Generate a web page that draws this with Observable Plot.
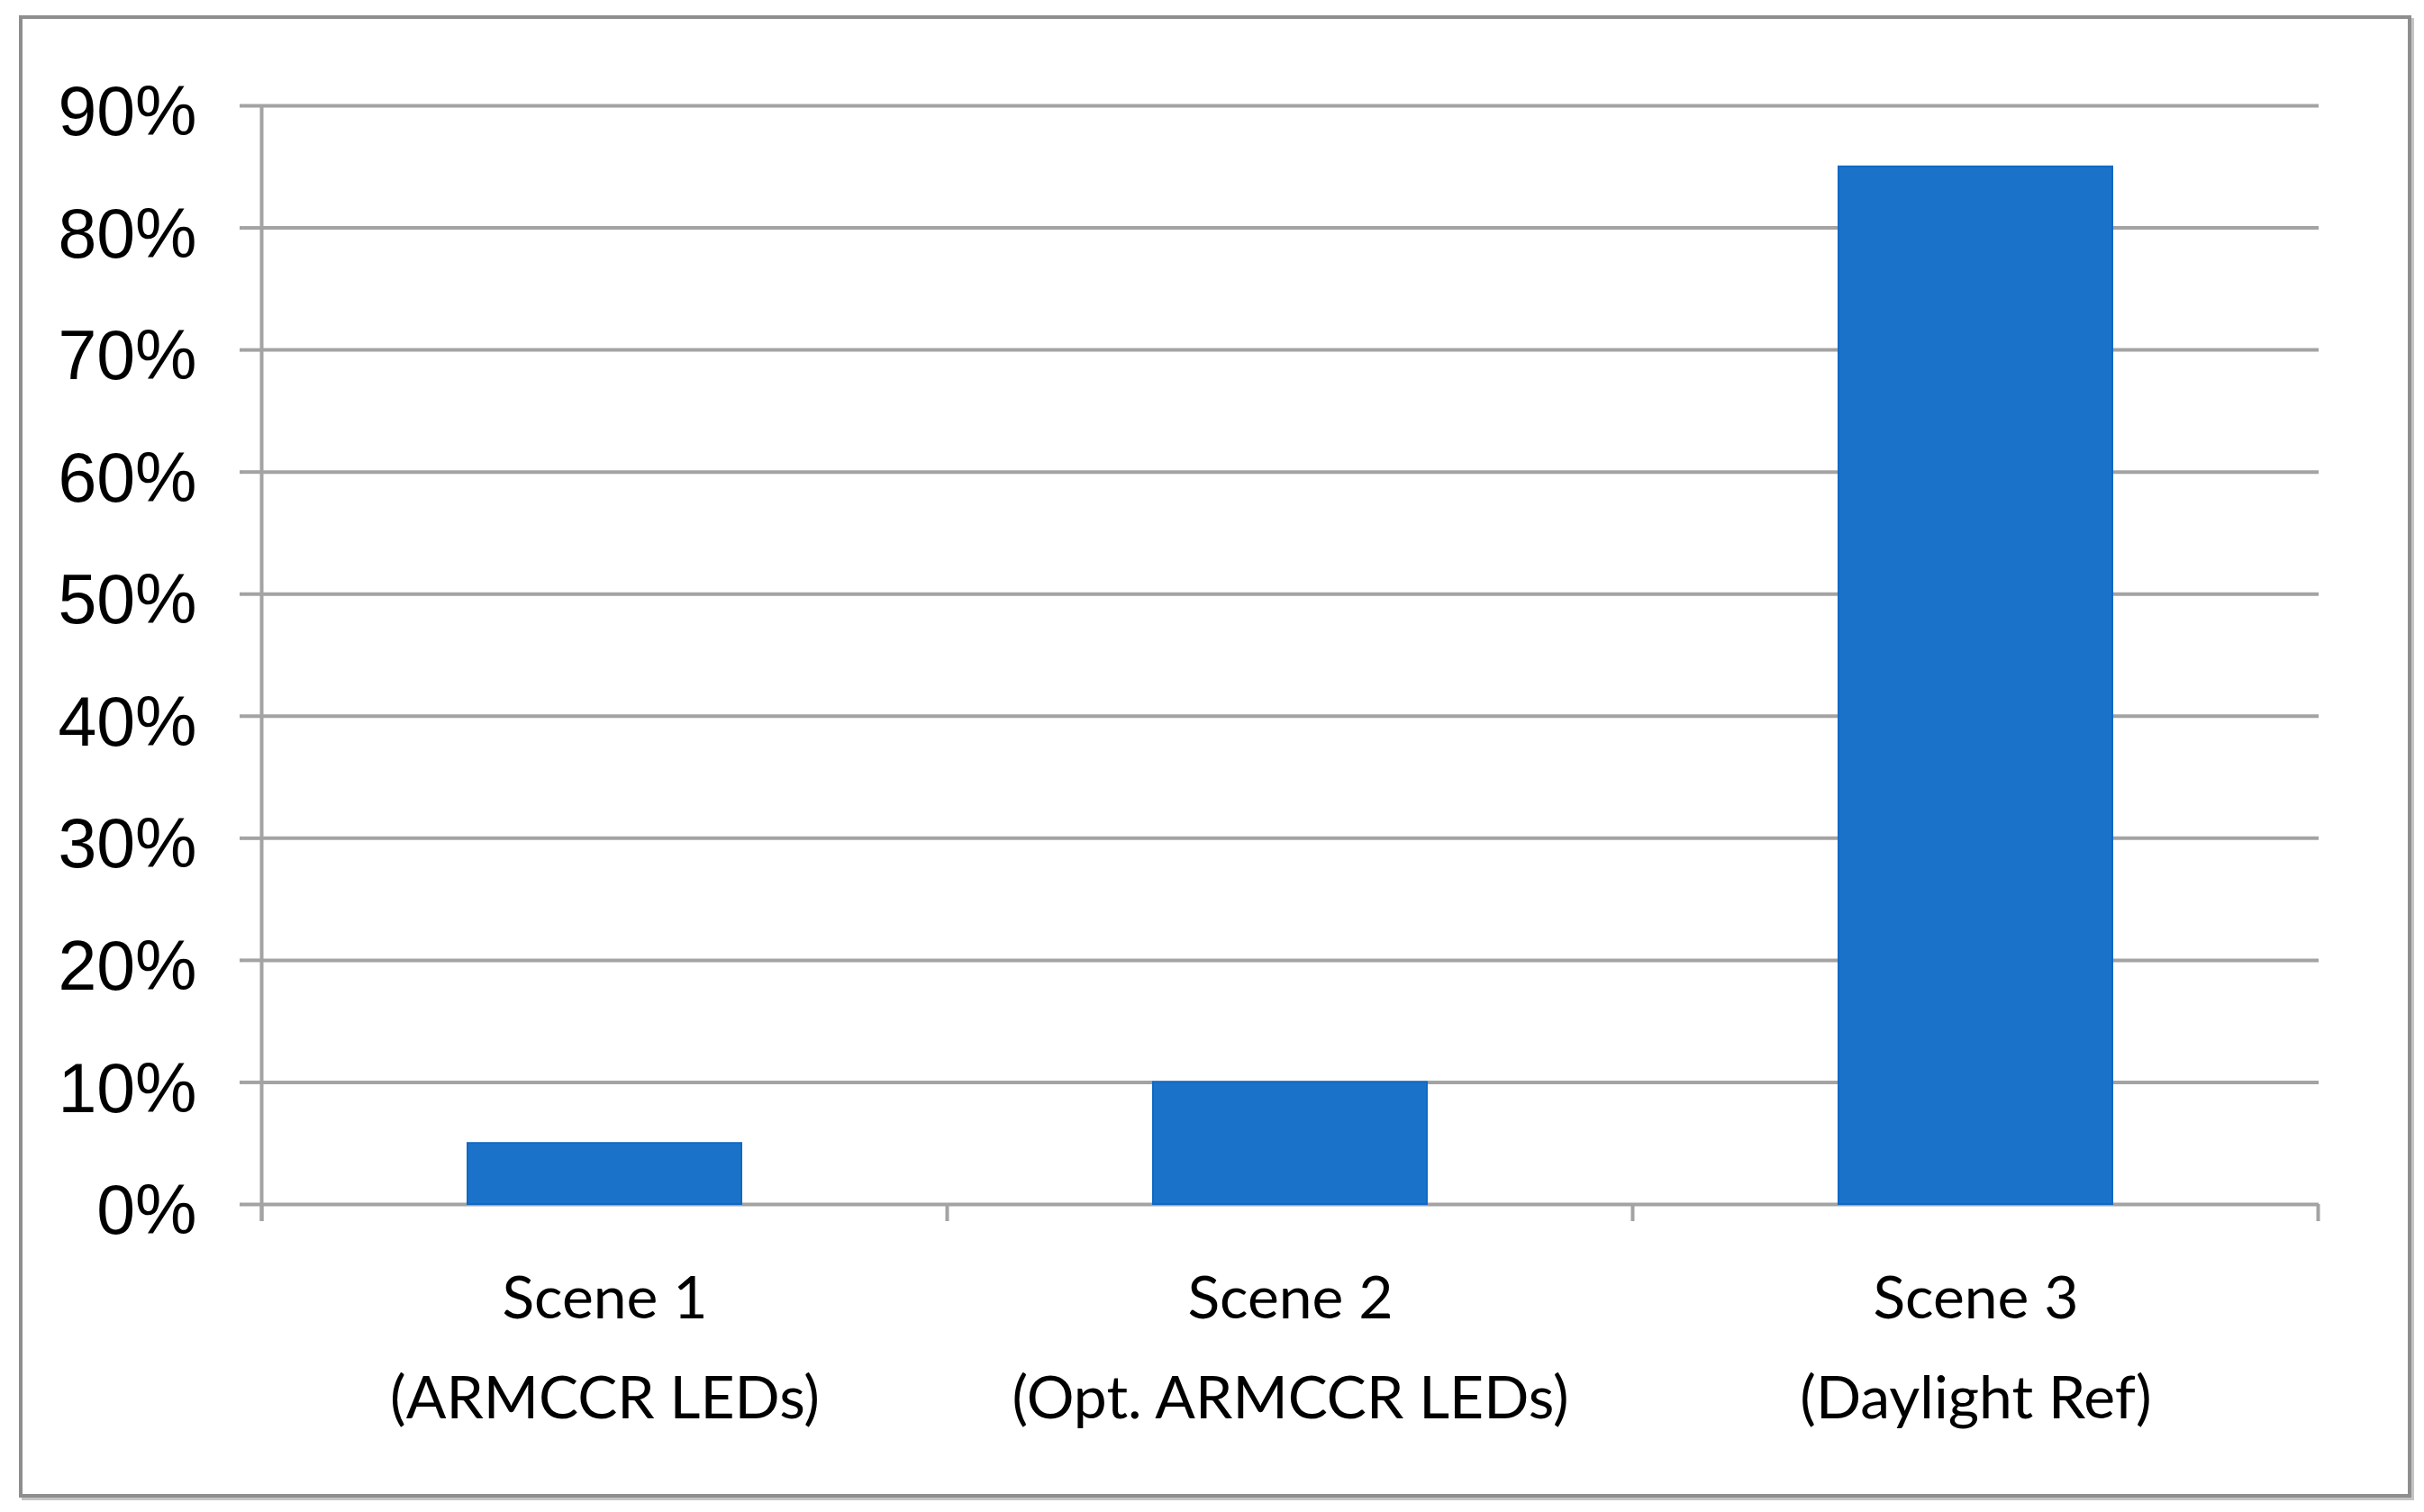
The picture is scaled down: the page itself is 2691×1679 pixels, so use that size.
<!DOCTYPE html>
<html>
<head>
<meta charset="utf-8">
<script src="https://cdn.jsdelivr.net/npm/d3@7"></script>
<script src="https://cdn.jsdelivr.net/npm/@observablehq/plot@0.6"></script>
<style>
  html, body { margin: 0; padding: 0; background: #fff; }
  #wrap { position: relative; width: 2691px; height: 1679px; overflow: hidden; }
  #frame { position: absolute; left: 21px; top: 17px; width: 2648px; height: 1638px;
           border: 4px solid #8e8e8e; box-shadow: 3px 3px 0 #c4c4c4; }
  #chart { position: absolute; left: 0; top: 0; }
</style>
</head>
<body>
<div id="wrap"><div id="frame"></div><div id="chart"></div></div>
<script>
const categories = ["Scene 1", "Scene 2", "Scene 3"];
const subLabels = ["(ARMCCR LEDs)", "(Opt. ARMCCR LEDs)", "(Daylight Ref)"];
const values = [0.05, 0.10, 0.85];
const yTicks = [0, 0.1, 0.2, 0.3, 0.4, 0.5, 0.6, 0.7, 0.8, 0.9];

const data = categories.map((c, i) => ({category: c, sub: subLabels[i], value: values[i]}));
const labelOf = new Map(data.map(d => [d.category, d.category + "\n" + d.sub]));

const grid = "#a3a3a3";
const plot = Plot.plot({
  width: 2691,
  height: 1679,
  marginLeft: 290,
  marginRight: 117,
  marginTop: 117,
  marginBottom: 342,
  style: {background: "transparent", overflow: "visible"},
  x: {domain: categories, paddingInner: 0.6, paddingOuter: 0.3},
  y: {domain: [0, 0.9]},
  marks: [
    Plot.ruleY(yTicks, {y: d => d, stroke: grid, strokeWidth: 4, strokeOpacity: 1}),
    // tick marks only
    Plot.axisY({ticks: yTicks, tickFormat: () => "", tickSize: 24,
      stroke: grid, strokeWidth: 4, strokeOpacity: 1, label: null}),
    // tick labels only
    Plot.axisY({ticks: yTicks, tickFormat: d3.format(".0%"), tickSize: 0, tickPadding: 72,
      fontSize: 77, fill: "#000", dy: 8,
      fontFamily: "Liberation Sans, Arial, sans-serif", label: null}),
    Plot.barY(data, {x: "category", y: "value", fill: "#1a73c9", stroke: "#1168c4", strokeWidth: 2}),
    Plot.axisX({tickSize: 0, tickPadding: 47, tickFormat: d => labelOf.get(d), fontSize: 66,
      lineHeight: 1.69, fill: "#000", fontFamily: "Lato, Open Sans, sans-serif", label: null})
  ]
});
document.getElementById("chart").appendChild(plot);

// Boundary tick marks along the category axis, derived from Plot's own x and y scales
const sx = plot.scale("x");
const sy = plot.scale("y");
const gap = (sx.step - sx.bandwidth) / 2;
const bounds = categories.map(c => sx.apply(c) - gap).concat([sx.apply(categories[categories.length - 1]) + sx.bandwidth + gap]);
const y0 = sy.apply(0), yTop = sy.apply(0.9);
const svg = d3.select(plot);
const g = svg.append("g").attr("stroke", grid).attr("stroke-width", 4);
g.selectAll("line.t").data(bounds).join("line")
  .attr("x1", d => d).attr("x2", d => d).attr("y1", y0).attr("y2", y0 + 19);
g.append("line").attr("x1", bounds[0]).attr("x2", bounds[0]).attr("y1", yTop).attr("y2", y0 + 19);
</script>
</body>
</html>
